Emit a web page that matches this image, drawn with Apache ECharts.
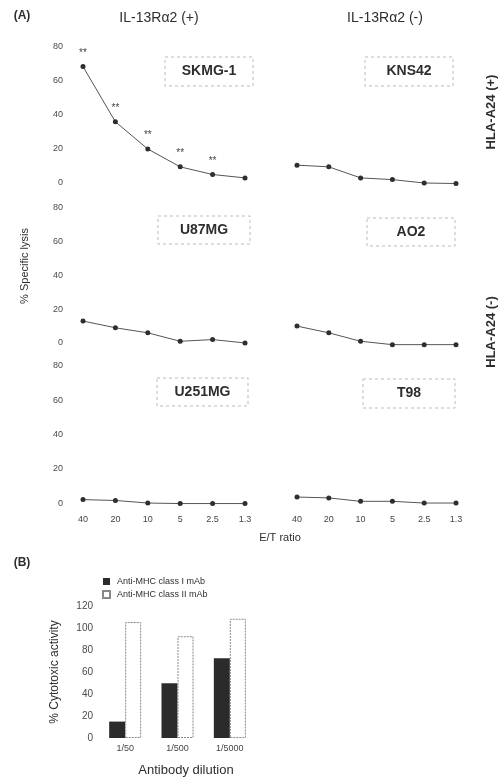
<!DOCTYPE html>
<html><head><meta charset="utf-8">
<script src="https://cdn.jsdelivr.net/npm/echarts@6/dist/echarts.min.js"></script>
<style>html,body{margin:0;padding:0;background:#fff}#c{width:503px;height:779px}</style>
</head><body><div id="c"></div>
<script>
// ---- data ----
const etRatios = ['40', '20', '10', '5', '2.5', '1.3'];
const skmg1 = [68.5, 36, 20, 9.5, 5, 3];
const skmg1Sig = ['**', '**', '**', '**', '**', ''];
const kns42 = [10.5, 9.5, 3, 2, 0, -0.3];
const u87mg = [13, 9, 6, 1, 2, 0];
const ao2 = [10, 6, 1, -1, -1, -1];
const u251mg = [2, 1.5, 0, -0.3, -0.3, -0.3];
const t98 = [3.5, 3, 1, 1, 0, 0];
const lysisTicks = [0, 20, 40, 60, 80];

const dilutions = ['1/50', '1/500', '1/5000'];
const mhcClassI = [15, 50, 73];
const mhcClassII = [106, 93, 109];
const seriesNamesB = ['Anti-MHC class I mAb', 'Anti-MHC class II mAb'];

// ---- layout ----
const FONT = '"Liberation Sans", Arial, sans-serif';
const TXT = '#2e2e2e';
const rows = [{top: 47, height: 144.5}, {top: 208, height: 143.4}, {top: 366, height: 145.6}];
const cols = [{left: 83, width: 162}, {left: 297, width: 159}];
const panels = [
  {data: skmg1, r: 0, c: 0, sig: skmg1Sig},
  {data: kns42, r: 0, c: 1},
  {data: u87mg, r: 1, c: 0},
  {data: ao2, r: 1, c: 1},
  {data: u251mg, r: 2, c: 0},
  {data: t98, r: 2, c: 1}
];

const grid = [], xAxis = [], yAxis = [], series = [];
panels.forEach((p, i) => {
  grid.push({left: cols[p.c].left, width: cols[p.c].width, top: rows[p.r].top, height: rows[p.r].height});
  xAxis.push({
    type: 'category', gridIndex: i, data: etRatios, boundaryGap: false,
    axisLine: {show: false}, axisTick: {show: false},
    axisLabel: {show: p.r === 2, fontSize: 9, color: '#444', fontFamily: FONT, margin: 3}
  });
  yAxis.push({
    type: 'value', gridIndex: i, min: -5, max: 80, interval: 5,
    axisLine: {show: false}, axisTick: {show: false}, splitLine: {show: false},
    axisLabel: {show: p.c === 0, fontSize: 9, color: '#4a4a4a', fontFamily: FONT, margin: 20,
      formatter: v => lysisTicks.indexOf(v) >= 0 ? String(v) : ''}
  });
  series.push({
    type: 'line', xAxisIndex: i, yAxisIndex: i, data: p.data,
    symbol: 'circle', symbolSize: 5, silent: true,
    lineStyle: {color: '#555', width: 1},
    itemStyle: {color: '#2e2e2e'},
    label: p.sig ? {show: true, position: 'top', distance: 6, fontSize: 10, color: '#444',
      fontFamily: FONT, formatter: prm => p.sig[prm.dataIndex]} : {show: false}
  });
});

// bar chart (B)
const bi = panels.length;
grid.push({left: 99, width: 157, top: 606.7, height: 131.3});
xAxis.push({type: 'category', gridIndex: bi, data: dilutions,
  axisLine: {show: false}, axisTick: {show: false},
  axisLabel: {fontSize: 9, color: '#444', fontFamily: FONT, margin: 6}});
yAxis.push({type: 'value', gridIndex: bi, min: 0, max: 120, interval: 20,
  axisLine: {show: false}, axisTick: {show: false}, splitLine: {show: false},
  axisLabel: {fontSize: 10, color: '#4a4a4a', fontFamily: FONT, margin: 6}});
series.push({type: 'bar', name: seriesNamesB[0], xAxisIndex: bi, yAxisIndex: bi, data: mhcClassI,
  barWidth: 16, barGap: '0%', itemStyle: {color: '#2b2b2b'}, silent: true});
series.push({type: 'bar', name: seriesNamesB[1], xAxisIndex: bi, yAxisIndex: bi, data: mhcClassII,
  barWidth: 16, barGap: '0%', itemStyle: {color: '#fff', borderColor: '#888', borderWidth: 1, borderType: [2, 1]}, silent: true});

const boxes = [
  {t: 'SKMG-1', x: 165, y: 57, w: 88, h: 29},
  {t: 'KNS42', x: 365, y: 57, w: 88, h: 29},
  {t: 'U87MG', x: 158, y: 216, w: 92, h: 28},
  {t: 'AO2', x: 367, y: 218, w: 88, h: 28},
  {t: 'U251MG', x: 157, y: 378, w: 91, h: 28},
  {t: 'T98', x: 363, y: 379, w: 92, h: 29}
];
const graphic = [];
boxes.forEach(b => {
  graphic.push({type: 'rect', shape: {x: b.x, y: b.y, width: b.w, height: b.h},
    style: {fill: null, stroke: '#bbb', lineWidth: 1, lineDash: [3, 3]}, silent: true});
  graphic.push({type: 'text', x: b.x + b.w / 2, y: b.y + b.h / 2,
    style: {text: b.t, font: 'bold 14px ' + FONT, fill: TXT, align: 'center', verticalAlign: 'middle'}});
});
const texts = [
  {t: '(A)', x: 22, y: 16, f: 'bold 12px ', a: 0},
  {t: 'IL-13Rα2 (+)', x: 159, y: 18, f: '14px ', a: 0},
  {t: 'IL-13Rα2 (-)', x: 385, y: 18, f: '14px ', a: 0},
  {t: 'HLA-A24 (+)', x: 491, y: 112, f: 'bold 13px ', a: Math.PI / 2},
  {t: 'HLA-A24 (-)', x: 491, y: 332, f: 'bold 13px ', a: Math.PI / 2},
  {t: '% Specific lysis', x: 25, y: 266, f: '11px ', a: Math.PI / 2},
  {t: 'E/T ratio', x: 280, y: 538, f: '11px ', a: 0},
  {t: '(B)', x: 22, y: 563, f: 'bold 12px ', a: 0},
  {t: '% Cytotoxic activity', x: 55, y: 672, f: '12px ', a: Math.PI / 2},
  {t: 'Antibody dilution', x: 186, y: 770, f: '13px ', a: 0}
];
texts.forEach(o => {
  graphic.push({type: 'text', x: o.x, y: o.y, rotation: o.a,
    style: {text: o.t, font: o.f + FONT, fill: TXT, align: 'center', verticalAlign: 'middle'}});
});

const chart = echarts.init(document.getElementById('c'), null, {renderer: 'canvas'});
chart.setOption({
  animation: false,
  backgroundColor: '#fff',
  legend: {data: seriesNamesB, orient: 'vertical', left: 97, top: 572, itemWidth: 7, itemHeight: 7,
    itemGap: 4, icon: 'rect', textStyle: {fontSize: 9, color: TXT, fontFamily: FONT, padding: [0, 0, 0, 2]}},
  grid, xAxis, yAxis, series, graphic
});
</script></body></html>
